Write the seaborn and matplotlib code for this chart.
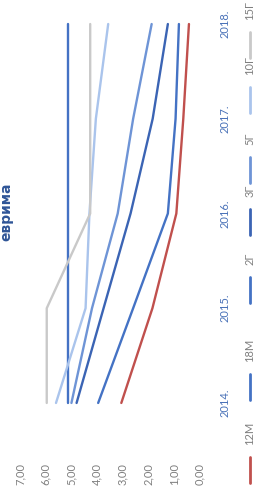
import matplotlib
matplotlib.use("Agg")
import matplotlib.pyplot as plt
from matplotlib.lines import Line2D
import seaborn as sns
import pandas as pd

# chart is drawn turned on its side: values run right-to-left, years bottom-to-top
years = [2014, 2015, 2016, 2017, 2018]
year_labels = ["2014.", "2015.", "2016.", "2017.", "2018."]
value_ticks = [0, 1, 2, 3, 4, 5, 6, 7]
value_labels = ["0,00", "1,00", "2,00", "3,00", "4,00", "5,00", "6,00", "7,00"]

series = ["12M", "18M", "2Г", "3Г", "5Г", "10Г", "15Г"]
y_12m = [3.06, 1.85, 0.92, 0.65, 0.43]
y_18m = [5.14, 5.14, 5.14, 5.14, 5.14]
y_2g = [3.96, 2.60, 1.25, 0.95, 0.82]
y_3g = [4.80, 3.75, 2.70, 1.84, 1.25]
y_5g = [5.00, 4.20, 3.20, 2.60, 1.88]
y_10g = [5.60, 4.45, 4.30, 4.05, 3.57]
y_15g = [5.96, 5.96, 4.27, 4.27, 4.27]

colors = {"12M": "#c0504d", "18M": "#4472c4", "2Г": "#4472c4", "3Г": "#3b64b4",
          "5Г": "#6e94d6", "10Г": "#aac4ec", "15Г": "#c9c9c9"}

df = pd.DataFrame({
    "year": years * len(series),
    "value": y_12m + y_18m + y_2g + y_3g + y_5g + y_10g + y_15g,
    "series": [s for s in series for _ in years],
})

sns.set_theme(style="white")
plt.rcParams['font.family'] = ['Lato', 'DejaVu Sans']

W, H = 254, 500
fig = plt.figure(figsize=(W / 100, H / 100), dpi=100)
ax = fig.add_axes([20 / W, 40 / H, 180 / W, 450 / H])

sns.lineplot(data=df, x="value", y="year", hue="series", palette=colors,
             orient="y", sort=True, linewidth=1.7, legend=False, ax=ax)

ax.set_xlim(7, 0)
ax.set_ylim(2013.398, 2018.148)
ax.set_xticks(value_ticks)
ax.set_xticklabels(value_labels)
ax.set_yticks(years)
ax.set_yticklabels(year_labels)
ax.yaxis.tick_right()
ax.tick_params(axis="x", length=0, pad=2, labelsize=8, labelcolor="#7f7f7f", labelrotation=90)
ax.tick_params(axis="y", length=0, pad=14, labelsize=8, labelcolor="#4a72b8", labelrotation=90)
for lab in ax.get_yticklabels():
    lab.set_va("center")
ax.set_xlabel("")
ax.set_ylabel("")
for sp in ax.spines.values():
    sp.set_visible(False)
ax.grid(False)

# title, sitting at the left edge
fig.text(6 / W, 1 - 212 / H, "еврима", rotation=90, ha="center", va="center",
         fontsize=10, fontweight="bold", color="#2f5597", family=["DejaVu Sans"])

# legend, turned like the rest
leg_centers = [470, 387, 290, 222, 170, 100, 45]
for s, yc in zip(series, leg_centers):
    fig.add_artist(Line2D([250 / W, 250 / W], [1 - (yc + 13) / H, 1 - (yc - 13) / H],
                          color=colors[s], lw=2, transform=fig.transFigure))
    fig.text(250 / W, 1 - (yc - 25) / H, s, rotation=90, rotation_mode="anchor",
             ha="left", va="center", fontsize=8, color="#7f7f7f")

fig.savefig("out.png", dpi=100)
